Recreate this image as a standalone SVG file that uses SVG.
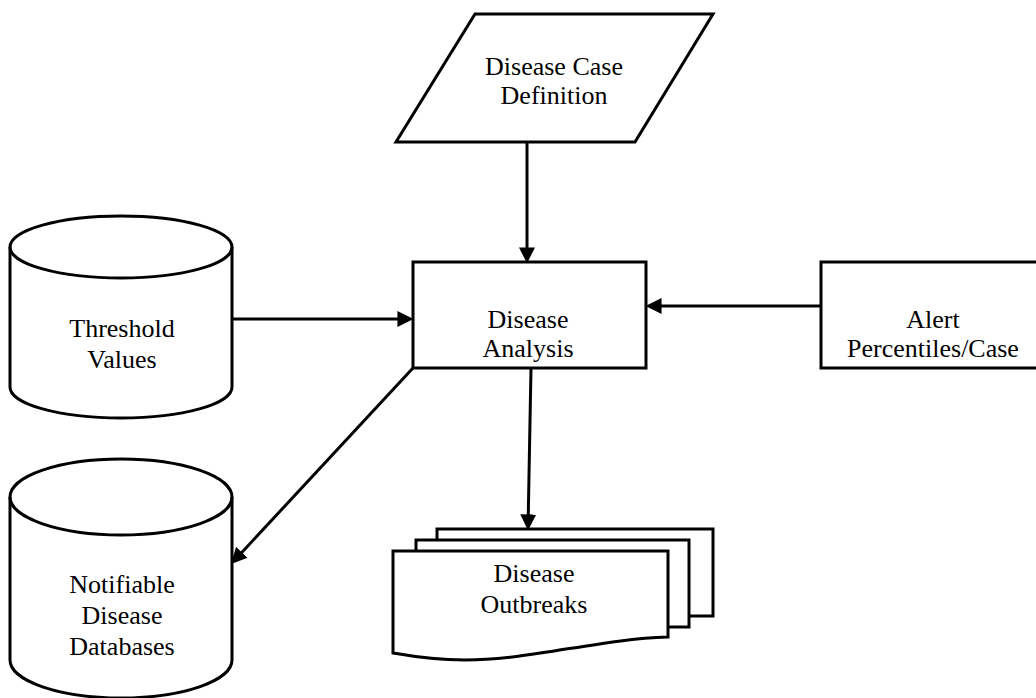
<svg xmlns="http://www.w3.org/2000/svg" width="1036" height="698" viewBox="0 0 1036 698">
<defs>
<style>
.s{fill:#fff;stroke:#000;stroke-width:3;stroke-linejoin:miter}
.l{fill:none;stroke:#000;stroke-width:3}
.t{font-family:"Liberation Serif","Times New Roman",serif;font-size:26px;fill:#000;text-anchor:middle}
</style>
<marker id="ah" markerUnits="userSpaceOnUse" markerWidth="16" markerHeight="16" viewBox="0 0 14 14" refX="4" refY="7" orient="auto">
<path d="M0,0 L14,7 L0,14 z" fill="#000"/>
</marker>
</defs>
<rect width="1036" height="698" fill="#fff"/>
<g id="case-definition">
<path class="s" d="M475,14 H713 L635,142 H396 Z"/>
<text class="t" x="554" y="75">Disease Case</text>
<text class="t" x="554" y="104">Definition</text>
</g>
<g id="threshold">
<path class="s" d="M10,247 V387 A111,31 0 0 0 232,387 V247 A111,31 0 0 0 10,247 Z"/>
<path class="l" d="M10,247 A111,31 0 0 0 232,247"/>
<text class="t" x="122" y="337">Threshold</text>
<text class="t" x="122" y="368">Values</text>
</g>
<g id="analysis">
<rect class="s" x="413" y="262" width="233" height="106"/>
<text class="t" x="528" y="328">Disease</text>
<text class="t" x="528" y="357">Analysis</text>
</g>
<g id="alert">
<rect class="s" x="821" y="262" width="233" height="106"/>
<text class="t" x="933" y="328">Alert</text>
<text class="t" x="933" y="357">Percentiles/Case</text>
</g>
<g id="databases">
<path class="s" d="M10,497 V660 A111,38 0 0 0 232,660 V497 A111,38 0 0 0 10,497 Z"/>
<path class="l" d="M10,497 A111,38 0 0 0 232,497"/>
<text class="t" x="122" y="593">Notifiable</text>
<text class="t" x="122" y="624">Disease</text>
<text class="t" x="122" y="655">Databases</text>
</g>
<g id="outbreaks">
<rect class="s" x="437" y="529" width="276" height="87"/>
<rect class="s" x="416" y="540" width="273" height="87"/>
<path class="s" d="M393,551 H668 V637 C600,639 530,660 465,660 C430,660 410,656 393,653 Z"/>
<text class="t" x="534" y="582">Disease</text>
<text class="t" x="534" y="613">Outbreaks</text>
</g>
<g id="connectors">
<path class="l" d="M527,143 V252" marker-end="url(#ah)"/>
<path class="l" d="M232,319 H402" marker-end="url(#ah)"/>
<path class="l" d="M821,306 H657" marker-end="url(#ah)"/>
<path class="l" d="M413,368 L238.8,555.7" marker-end="url(#ah)"/>
<path class="l" d="M531,368 L528.2,519" marker-end="url(#ah)"/>
</g>
</svg>
